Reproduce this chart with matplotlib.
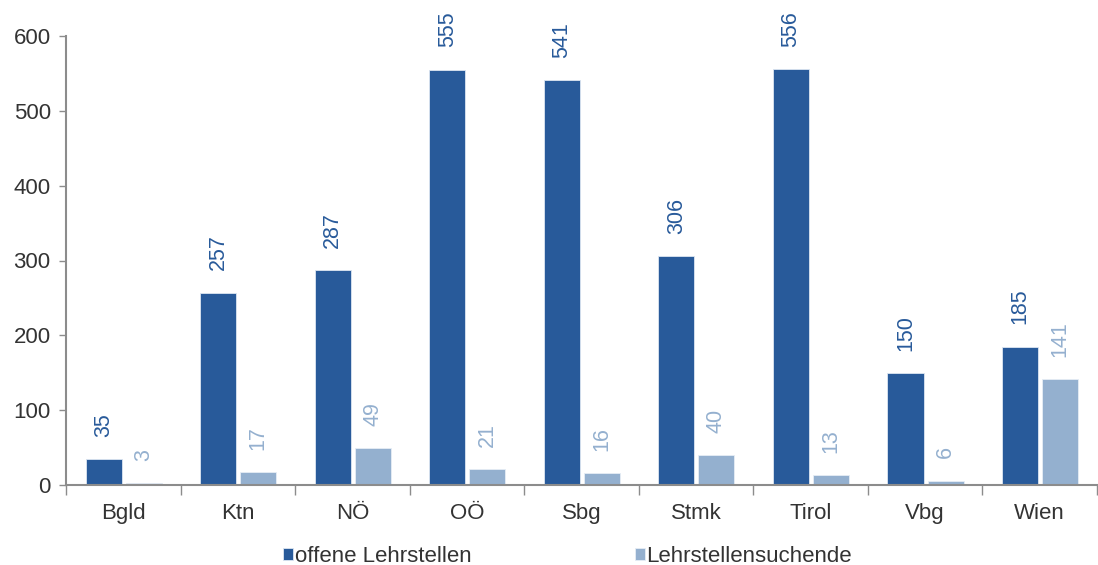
import matplotlib
matplotlib.use("Agg")
import matplotlib.pyplot as plt
import numpy as np

plt.rcParams['font.family'] = ['Liberation Sans', 'DejaVu Sans']

regions = ["Bgld", "Ktn", "NÖ", "OÖ", "Sbg", "Stmk", "Tirol", "Vbg", "Wien"]
offene = [35, 257, 287, 555, 541, 306, 556, 150, 185]
suchende = [3, 17, 49, 21, 16, 40, 13, 6, 141]
series_names = ["offene Lehrstellen", "Lehrstellensuchende"]
yticks = [0, 100, 200, 300, 400, 500, 600]

dark = "#285A9A"
light = "#94B0CF"
axis_grey = "#8C8C8C"
text_col = "#333333"

fig = plt.figure(figsize=(10.98, 5.65), dpi=100)
ax = fig.add_axes([66 / 1098, 1 - 485 / 565, 1031 / 1098, (485 - 36) / 565])

x = np.arange(len(regions))
w = 0.315
b1 = ax.bar(x - 0.172, offene, width=w, color=dark, edgecolor="#dce6f2", linewidth=0.6,
            label=series_names[0])
b2 = ax.bar(x + 0.178, suchende, width=w, color=light, edgecolor="#e6edf5", linewidth=0.6,
            label=series_names[1])

for bars, vals, col in ((b1, offene, dark), (b2, suchende, light)):
    for r, v in zip(bars, vals):
        ax.annotate(str(v), (r.get_x() + r.get_width() / 2, v), xytext=(0, 16),
                    textcoords="offset points", rotation=90, ha="center", va="bottom",
                    fontsize=15.5, color=col, annotation_clip=False)

ax.set_xlim(-0.5, len(regions) - 0.5)
ax.set_ylim(0, 600)
ax.set_yticks(yticks)
ax.tick_params(axis="y", length=5, width=1, color=axis_grey, labelsize=16,
               labelcolor=text_col, pad=6)
ax.set_xticks(x)
ax.set_xticklabels(regions)
ax.set_xticks(np.arange(len(regions) + 1) - 0.5, minor=True)
ax.tick_params(axis="x", which="major", length=0, labelsize=16, labelcolor=text_col, pad=13)
ax.tick_params(axis="x", which="minor", length=7, width=1, color=axis_grey)

for s in ("top", "right"):
    ax.spines[s].set_visible(False)
for s in ("left", "bottom"):
    ax.spines[s].set_color(axis_grey)
    ax.spines[s].set_linewidth(1.5)

fig.legend(handles=[b1, b2], labels=series_names, loc="center", bbox_to_anchor=(0.5169, 9 / 565),
           ncol=2, frameon=False, fontsize=16, handlelength=0.45, handleheight=0.45,
           handletextpad=0.08, columnspacing=7.35, labelcolor=text_col)

fig.savefig("out.png", dpi=100)
